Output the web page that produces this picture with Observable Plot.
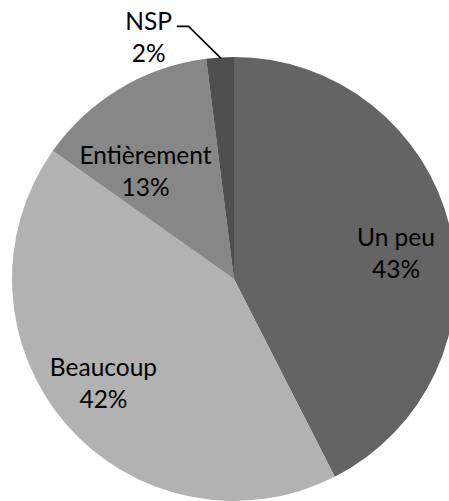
<!DOCTYPE html>
<html><head><meta charset="utf-8">
<script src="https://cdn.jsdelivr.net/npm/d3@7"></script>
<script src="https://cdn.jsdelivr.net/npm/@observablehq/plot@0.6"></script>
<style>body{margin:0;background:#fff}</style>
</head><body><div id="chart"></div>
<script>
const categories = ["Un peu", "Beaucoup", "Entièrement", "NSP"];
const values = [42.5, 42.3, 13.2, 2.0];
const labels = ["43%", "42%", "13%", "2%"];
const colors = ["#646464", "#b2b2b2", "#878787", "#4f4f4f"];

// label placement (angle in degrees clockwise from top, radius as fraction of pie radius)
const labelAngle = [80.3, 232.1, 321, 340.6];
const labelRadius = [0.738, 0.748, 0.637, 1.165];

const pie = d3.pie().sort(null).value(d => d.value)(
  categories.map((c, i) => ({name: c, value: values[i], color: colors[i]}))
);

const rad = a => a * Math.PI / 180;
const labelData = categories.map((c, i) => ({
  text: c + "\n" + labels[i],
  x: labelRadius[i] * Math.sin(rad(labelAngle[i])),
  y: labelRadius[i] * Math.cos(rad(labelAngle[i]))
}));

// leader line for NSP: from label to slice edge at slice mid angle
const nsp = pie[3];
const mid = (nsp.startAngle + nsp.endAngle) / 2;
const leader = [
  {x: -0.257, y: 1.14},
  {x: -0.207, y: 1.14},
  {x: Math.sin(mid), y: Math.cos(mid)}
];

function pieMark(index, scales) {
  const cx = scales.x(0), cy = scales.y(0);
  const r = scales.x(1) - scales.x(0);
  const arc = d3.arc().innerRadius(0).outerRadius(r);
  const g = d3.create("svg:g").attr("transform", `translate(${cx},${cy})`);
  g.selectAll("path").data(pie).join("path")
    .attr("d", arc)
    .attr("fill", d => d.data.color);
  return g.node();
}

const chart = Plot.plot({
  width: 449,
  height: 501,
  margin: 0,
  x: {domain: [-1, 1], range: [12, 456], axis: null},
  y: {domain: [-1, 1], range: [501, 57], axis: null},
  marks: [
    pieMark,
    Plot.line(leader, {x: "x", y: "y", stroke: "#000", strokeWidth: 1.6}),
    Plot.text(labelData, {x: "x", y: "y", text: "text", fontSize: 24.5, lineHeight: 1.31, fill: "#000", fontFamily: "Lato"})
  ],
  style: {fontFamily: "Lato", background: "#fff"}
});
document.getElementById("chart").append(chart);
</script>
</body></html>
